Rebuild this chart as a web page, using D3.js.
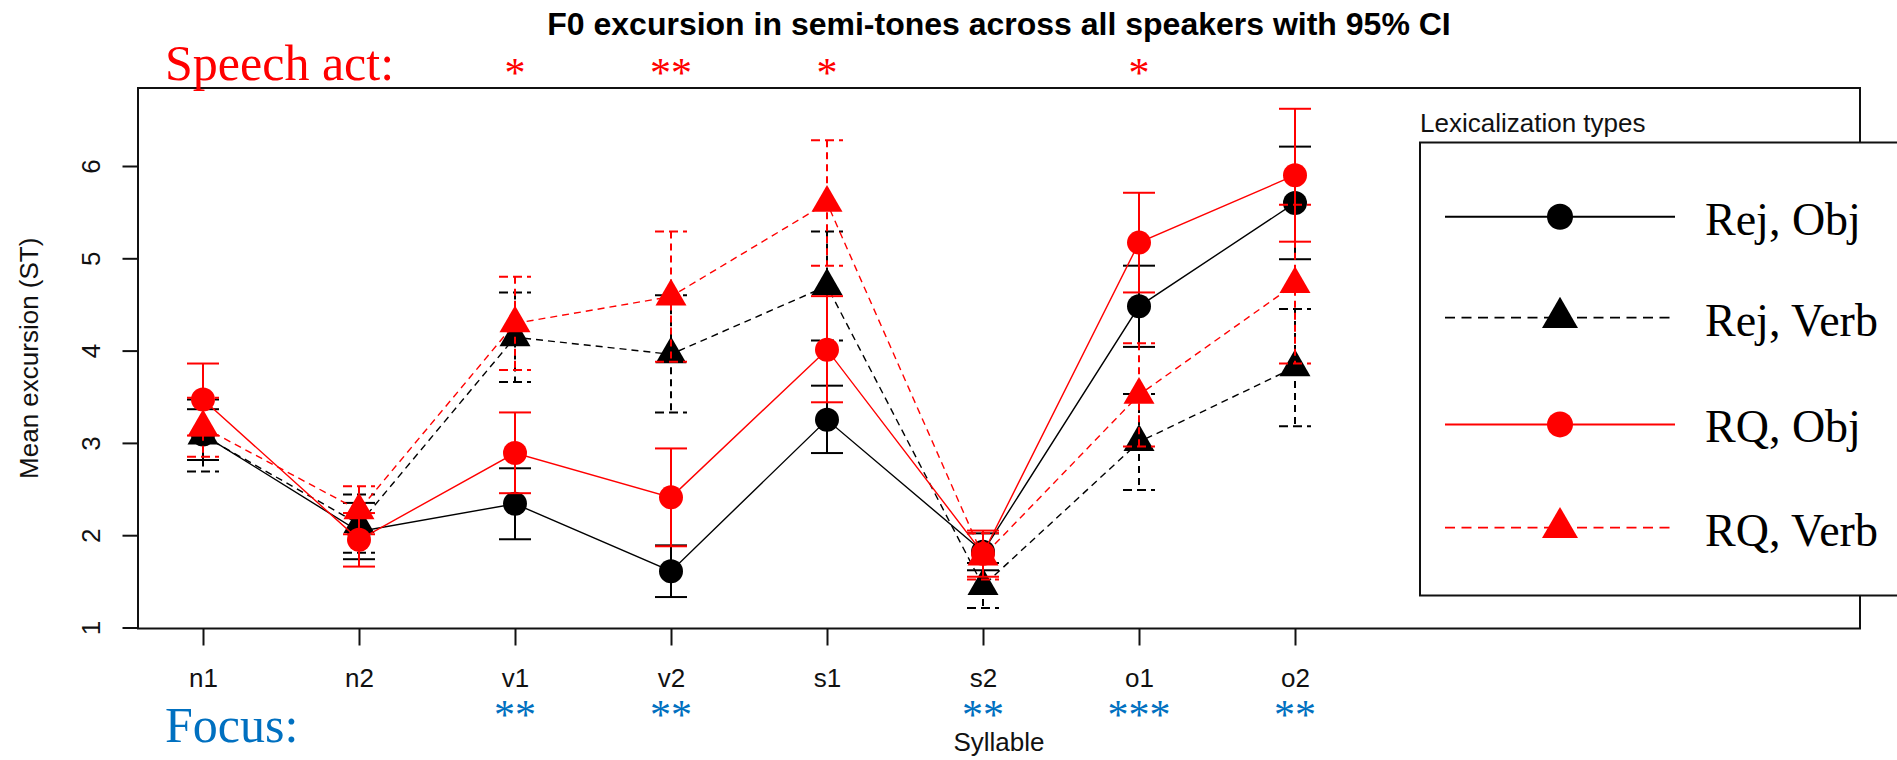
<!DOCTYPE html>
<html>
<head>
<meta charset="utf-8">
<script src="https://cdn.jsdelivr.net/npm/d3@7/dist/d3.min.js"></script>
<style>
  html, body { margin: 0; padding: 0; background: #fff; }
  svg { display: block; }
  .rtxt { font-family: "Liberation Sans", Arial, sans-serif; }
  .serif { font-family: "Liberation Serif", "Times New Roman", serif; }
</style>
</head>
<body>
<svg id="chart" width="1897" height="760"></svg>
<script>
// Syllable positions along the utterance
const categories = ["n1", "n2", "v1", "v2", "s1", "s2", "o1", "o2"];
const seriesNames = ["Rej, Obj", "Rej, Verb", "RQ, Obj", "RQ, Verb"];

// Mean F0 excursion (ST) with lower / upper 95% CI bounds
const rejObjMean  = [3.09, 2.04, 2.34, 1.61, 3.25, 1.82, 4.48, 5.60];
const rejObjLow   = [2.815, 1.74, 1.956, 1.33, 2.89, 1.62, 4.04, 4.99];
const rejObjHigh  = [3.365, 2.35, 2.725, 1.89, 3.62, 2.02, 4.92, 6.21];

const rejVerbMean = [3.08, 2.12, 4.145, 3.96, 4.70, 1.45, 3.01, 3.82];
const rejVerbLow  = [2.69, 1.81, 3.66, 3.33, 4.11, 1.21, 2.49, 3.18];
const rejVerbHigh = [3.47, 2.44, 4.63, 4.60, 5.29, 1.70, 3.53, 4.45];

const rqObjMean   = [3.47, 1.95, 2.89, 2.41, 4.01, 1.80, 5.17, 5.90];
const rqObjLow    = [3.08, 1.66, 2.455, 1.88, 3.44, 1.55, 4.63, 5.18];
const rqObjHigh   = [3.86, 2.24, 3.33, 2.94, 4.59, 2.05, 5.71, 6.62];

const rqVerbMean  = [3.17, 2.27, 4.295, 4.585, 5.60, 1.77, 3.52, 4.72];
const rqVerbLow   = [2.85, 2.01, 3.79, 3.88, 4.92, 1.52, 2.96, 3.86];
const rqVerbHigh  = [3.49, 2.53, 4.80, 5.29, 6.28, 2.02, 4.08, 5.58];

const yTicks = [1, 2, 3, 4, 5, 6];

// Significance marks per syllable
const speechActSig = ["", "", "*", "**", "*", "", "*", ""];
const focusSig     = ["", "", "**", "**", "", "**", "***", "**"];

// Style per series
const seriesStyle = [
  { color: "#000000", dashed: false, shape: d3.symbolCircle },
  { color: "#000000", dashed: true,  shape: d3.symbolTriangle },
  { color: "#ff0000", dashed: false, shape: d3.symbolCircle },
  { color: "#ff0000", dashed: true,  shape: d3.symbolTriangle }
];

const series = [
  { name: seriesNames[0], mean: rejObjMean,  low: rejObjLow,  high: rejObjHigh },
  { name: seriesNames[1], mean: rejVerbMean, low: rejVerbLow, high: rejVerbHigh },
  { name: seriesNames[2], mean: rqObjMean,   low: rqObjLow,   high: rqObjHigh },
  { name: seriesNames[3], mean: rqVerbMean,  low: rqVerbLow,  high: rqVerbHigh }
];

const svg = d3.select("#chart");

// Plot frame
const box = { left: 138, top: 88, right: 1860, bottom: 628.5 };

const x = d3.scalePoint().domain(categories).range([203, 1295]);
const y = d3.scaleLinear().domain([1, 6]).range([627.5, 166]);

// Title
svg.append("text").attr("class", "rtxt")
  .attr("x", (box.left + box.right) / 2).attr("y", 35)
  .attr("text-anchor", "middle")
  .attr("font-size", 32).attr("font-weight", "bold")
  .text("F0 excursion in semi-tones across all speakers with 95% CI");

// Axes
const xAxis = svg.append("g")
  .attr("transform", `translate(0,${box.bottom})`)
  .call(d3.axisBottom(x).tickSize(17).tickSizeOuter(0));
xAxis.select(".domain").remove();
xAxis.selectAll(".tick line").attr("stroke", "#111").attr("stroke-width", 2);
xAxis.selectAll(".tick text")
  .attr("class", "rtxt").attr("font-size", 26).attr("fill", "#111")
  .attr("y", 58.5).attr("dy", null);

const yAxis = svg.append("g")
  .attr("transform", `translate(${box.left},0)`)
  .call(d3.axisLeft(y).tickValues(yTicks).tickFormat(d3.format("d")).tickSize(15.5).tickSizeOuter(0));
yAxis.select(".domain").remove();
yAxis.selectAll(".tick line").attr("stroke", "#111").attr("stroke-width", 2);
yAxis.selectAll(".tick text")
  .attr("class", "rtxt").attr("font-size", 26).attr("fill", "#111")
  .attr("x", null).attr("dy", null)
  .attr("text-anchor", "middle")
  .attr("transform", "translate(-38,0) rotate(-90)");

// Axis titles
svg.append("text").attr("class", "rtxt")
  .attr("transform", `translate(38,${(box.top + box.bottom) / 2}) rotate(-90)`)
  .attr("text-anchor", "middle").attr("font-size", 26).attr("fill", "#111")
  .text("Mean excursion (ST)");

svg.append("text").attr("class", "rtxt")
  .attr("x", (box.left + box.right) / 2).attr("y", 751)
  .attr("text-anchor", "middle").attr("font-size", 26).attr("fill", "#111")
  .text("Syllable");

// Frame
svg.append("rect")
  .attr("x", box.left).attr("y", box.top)
  .attr("width", box.right - box.left).attr("height", box.bottom - box.top)
  .attr("fill", "none").attr("stroke", "#111").attr("stroke-width", 2);

// Series: line, CI bars, markers
const line = d3.line().x((d, i) => x(categories[i])).y(d => y(d));
const capHalf = 16;

series.forEach((s, k) => {
  const st = seriesStyle[k];
  const g = svg.append("g");

  g.append("path")
    .attr("d", line(s.mean))
    .attr("fill", "none").attr("stroke", st.color).attr("stroke-width", 1.4)
    .attr("stroke-dasharray", st.dashed ? "7,5" : null);

  const bars = g.selectAll(".ci").data(categories).enter().append("g");
  bars.append("line")
    .attr("x1", c => x(c)).attr("x2", c => x(c))
    .attr("y1", (c, i) => y(s.high[i])).attr("y2", (c, i) => y(s.low[i]))
    .attr("stroke", st.color).attr("stroke-width", 2)
    .attr("stroke-dasharray", st.dashed ? "7,5" : null);
  [s.high, s.low].forEach(arr => {
    bars.append("line")
      .attr("x1", c => x(c) - capHalf).attr("x2", c => x(c) + capHalf)
      .attr("y1", (c, i) => y(arr[i])).attr("y2", (c, i) => y(arr[i]))
      .attr("stroke", st.color).attr("stroke-width", 2)
      .attr("stroke-dasharray", st.dashed ? "9,5" : null);
  });

  const sym = d3.symbol().type(st.shape).size(st.shape === d3.symbolCircle ? 452 : 416);
  g.selectAll(".pt").data(s.mean).enter().append("path")
    .attr("d", sym)
    .attr("transform", (d, i) => `translate(${x(categories[i])},${y(d)})`)
    .attr("fill", st.color);
});

// Legend
const legend = svg.append("g");
legend.append("text").attr("class", "rtxt")
  .attr("x", 1420).attr("y", 132)
  .attr("font-size", 26).attr("fill", "#111")
  .text("Lexicalization types");
legend.append("rect")
  .attr("x", 1420).attr("y", 142.5).attr("width", 520).attr("height", 453)
  .attr("fill", "#fff").attr("stroke", "#111").attr("stroke-width", 2);

const legendY = [216.7, 317.6, 424.4, 527.7];
series.forEach((s, k) => {
  const st = seriesStyle[k];
  const ly = legendY[k];
  legend.append("line")
    .attr("x1", 1445).attr("x2", st.dashed ? 1670 : 1675)
    .attr("y1", ly).attr("y2", ly)
    .attr("stroke", st.color).attr("stroke-width", st.dashed ? 1.8 : 2)
    .attr("stroke-dasharray", st.dashed ? "10,6.5" : null);
  const sym = d3.symbol().type(st.shape).size(st.shape === d3.symbolCircle ? 531 : 561);
  legend.append("path").attr("d", sym)
    .attr("transform", `translate(1560,${ly})`).attr("fill", st.color);
  legend.append("text").attr("class", "serif")
    .attr("x", 1705).attr("y", ly + 18)
    .attr("font-size", 46).attr("fill", "#000")
    .text(s.name);
});

// Significance annotations
svg.append("text").attr("class", "serif")
  .attr("x", 165).attr("y", 80)
  .attr("font-size", 50).attr("fill", "#ff0000")
  .text("Speech act:");
svg.append("text").attr("class", "serif")
  .attr("x", 165).attr("y", 741.5)
  .attr("font-size", 50).attr("fill", "#0070c0")
  .text("Focus:");

function sigRow(marks, centerY, color) {
  const g = svg.append("g");
  const t = g.selectAll("text").data(marks).enter().append("text")
    .attr("class", "serif")
    .attr("x", (d, i) => x(categories[i])).attr("y", centerY)
    .attr("text-anchor", "middle").attr("font-size", 42).attr("fill", color)
    .text(d => d);
  t.each(function () {
    if (!this.textContent) return;
    const b = this.getBBox();
    const shift = centerY - (b.y + b.height / 2);
    d3.select(this).attr("y", centerY + shift);
  });
}
sigRow(speechActSig, 73.3, "#ff0000");
sigRow(focusSig, 715, "#0070c0");
</script>
</body>
</html>
